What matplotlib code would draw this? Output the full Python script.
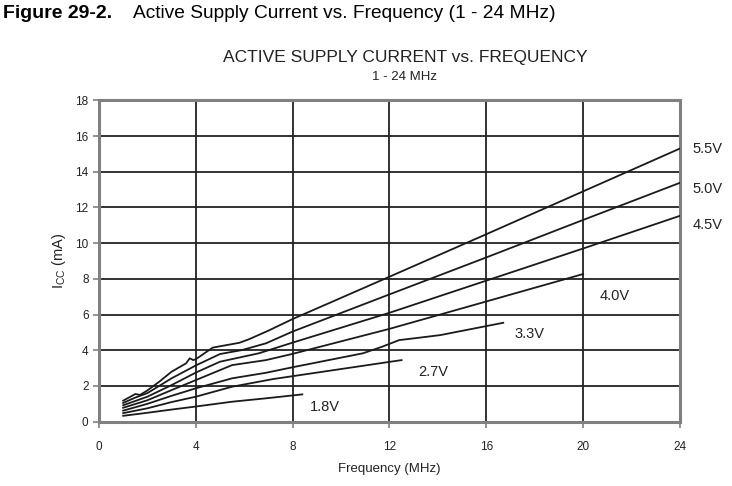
import matplotlib.pyplot as plt

plt.rcParams['font.family'] = ['Liberation Sans', 'DejaVu Sans']

# (MHz, mA)
x55 = [1, 1.3, 1.5, 1.7, 2, 2.5, 3, 3.6, 3.75, 3.9, 4.0, 4.7, 5.8, 6.2, 7, 8, 12, 16, 20, 24]
y55 = [1.18, 1.4, 1.55, 1.5, 1.75, 2.25, 2.8, 3.27, 3.55, 3.45, 3.5, 4.15, 4.42, 4.62, 5.1, 5.75, 8.12, 10.5, 12.9, 15.3]

x50 = [1, 1.5, 2, 3, 4, 5, 5.9, 6.9, 8, 12, 16, 20, 24]
y50 = [1.05, 1.35, 1.6, 2.43, 3.15, 3.79, 4.01, 4.39, 5.05, 7.13, 9.2, 11.3, 13.38]

x45 = [1, 2, 3, 4, 5, 6.6, 8, 12, 16, 20, 24]
y45 = [0.92, 1.4, 2.05, 2.75, 3.36, 3.83, 4.43, 6.1, 7.9, 9.7, 11.53]

x40 = [1, 2, 3, 4, 5.5, 6.9, 8, 12, 14.35, 20]
y40 = [0.78, 1.2, 1.77, 2.33, 3.17, 3.45, 3.8, 5.2, 6.1, 8.27]

x33 = [1, 2, 3, 4, 5.5, 6.9, 8, 10.9, 11.7, 12.4, 13.2, 14.1, 16.7]
y33 = [0.62, 1.0, 1.45, 1.87, 2.43, 2.74, 3.05, 3.83, 4.2, 4.57, 4.7, 4.85, 5.54]

x27 = [1, 2, 3, 4, 5.5, 7.2, 8, 12.5]
y27 = [0.48, 0.75, 1.1, 1.4, 1.96, 2.39, 2.55, 3.45]

x18 = [1, 2, 3, 4, 5.5, 6.9, 8.4]
y18 = [0.33, 0.5, 0.68, 0.85, 1.12, 1.31, 1.53]

curves = [(x55, y55), (x50, y50), (x45, y45), (x40, y40), (x33, y33), (x27, y27), (x18, y18)]
labels = ['5.5V', '5.0V', '4.5V', '4.0V', '3.3V', '2.7V', '1.8V']
labelPos = [(24.53, 15.25), (24.53, 13.05), (24.53, 11.0), (20.69, 7.05),
            (17.18, 4.93), (13.17, 2.8), (8.71, 0.8)]

xTicks = [0, 4, 8, 12, 16, 20, 24]
yTicks = [0, 2, 4, 6, 8, 10, 12, 14, 16, 18]

fig = plt.figure(figsize=(7.32, 4.86), dpi=100)
ax = fig.add_axes([0.1352, 0.1323, 0.7937, 0.6613])

for xs, ys in curves:
    ax.plot(xs, ys, color='#1a1a1a', lw=1.3, zorder=3)

for lab, (lx, ly) in zip(labels, labelPos):
    ax.text(lx, ly, lab, fontsize=10.5, ha='left', va='center', color='#222222', clip_on=False)

ax.set_xlim(0, 24)
ax.set_ylim(0, 18)
ax.set_xticks(xTicks)
ax.set_yticks(yTicks)
ax.grid(True, color='#222222', lw=1.3)
ax.set_axisbelow(True)
for s in ax.spines.values():
    s.set_color('#808080')
    s.set_linewidth(2.2)
ax.tick_params(colors='#808080', labelcolor='#222222', labelsize=8.5, length=4, width=1.2)
ax.tick_params(axis='x', pad=10)

ax.set_xlabel('Frequency (MHz)', fontsize=9.5, color='#222222', labelpad=7)
ax.set_ylabel('I$_{\\mathregular{CC}}$ (mA)', fontsize=10.5, color='#222222', labelpad=5)

fig.text(3 / 732, 1 - 18.5 / 486, 'Figure 29-2.', fontsize=14, fontweight='bold', va='baseline', ha='left')
fig.text(133 / 732, 1 - 18.5 / 486, 'Active Supply Current vs. Frequency (1 - 24 MHz)', fontsize=13.8,
         va='baseline', ha='left')
fig.text(405 / 732, 1 - 62 / 486, 'ACTIVE SUPPLY CURRENT vs. FREQUENCY', fontsize=12.5,
         va='baseline', ha='center', color='#222222')
fig.text(405 / 732, 1 - 77 / 486, '1 - 24 MHz', fontsize=9.5, va='center', ha='center', color='#222222')

fig.savefig('out.png', dpi=100)
